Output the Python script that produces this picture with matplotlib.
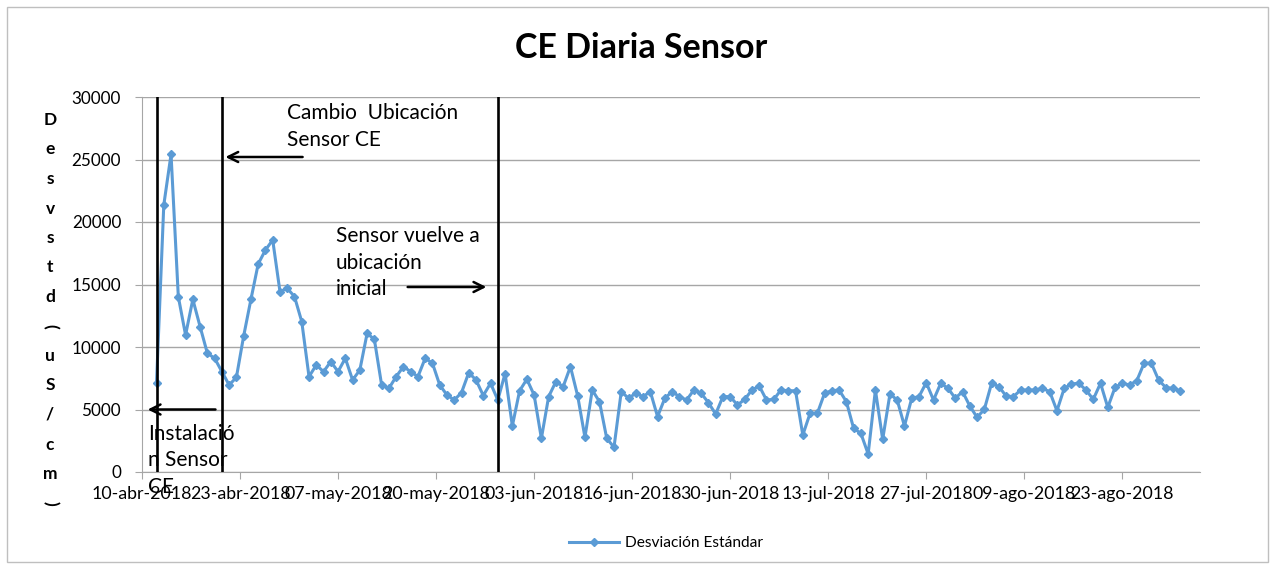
import pandas as pd
import numpy as np
import matplotlib
matplotlib.use("Agg")
import matplotlib.pyplot as plt
import matplotlib.dates as mdates
from matplotlib.patches import Rectangle

plt.rcParams["font.family"] = ["Lato", "DejaVu Sans"]

# datos (CE diaria, desviacion estandar, uS/cm)
fecha_inicio = "2018-04-12"
desv_std = [
    7150, 21360, 25410, 14030, 10960, 13810, 11630, 9500, 9100, 8030,
    6960, 7570, 10880, 13810, 16640, 17760, 18560, 14430, 14700, 14030,
    12030, 7630, 8560, 8030, 8830, 8030, 9100, 7360, 8160, 11090,
    10610, 6960, 6690, 7630, 8430, 8030, 7630, 9100, 8700, 6960,
    6160, 5760, 6350, 7950, 7360, 6120, 7100, 5760, 7880, 3680,
    6500, 7420, 6160, 2690, 6030, 7230, 6830, 8430, 6080, 2770,
    6560, 5630, 2690, 1980, 6430, 5900, 6300, 6030, 6430, 4430,
    5900, 6430, 6030, 5760, 6560, 6300, 5550, 4640, 6030, 6030,
    5360, 5810, 6560, 6880, 5760, 5810, 6560, 6500, 6500, 2960,
    4690, 4690, 6300, 6500, 6560, 5630, 3490, 3090, 1440, 6560,
    2610, 6240, 5760, 3680, 5900, 6030, 7150, 5760, 7100, 6690,
    5900, 6430, 5280, 4370, 5010, 7100, 6830, 6080, 6030, 6560,
    6560, 6560, 6690, 6430, 4900, 6690, 7040, 7100, 6560, 5810,
    7100, 5170, 6770, 7100, 6960, 7310, 8700, 8700, 7360, 6750,
    6690, 6500,
]
etiquetas_x = ["10-abr-2018", "23-abr-2018", "07-may-2018", "20-may-2018",
               "03-jun-2018", "16-jun-2018", "30-jun-2018", "13-jul-2018",
               "27-jul-2018", "09-ago-2018", "23-ago-2018"]
eventos = {"instalacion": "2018-04-12", "cambio": "2018-04-21", "vuelve": "2018-05-29"}

fechas = pd.date_range(fecha_inicio, periods=len(desv_std), freq="D")
x = mdates.date2num(fechas)
x0 = mdates.date2num(pd.Timestamp("2018-04-10"))

fig = plt.figure(figsize=(12.75, 5.69), dpi=100)
ax = fig.add_axes([142 / 1275, 1 - 472 / 569, (1200 - 142) / 1275, (472 - 97) / 569])

azul = "#5B9BD5"
ax.plot(x, desv_std, color=azul, lw=2.2, marker="D", markersize=4.3,
        markerfacecolor=azul, markeredgecolor=azul, label="Desviación Estándar", zorder=3)

ax.set_ylim(0, 30000)
ax.set_yticks(range(0, 30001, 5000))
ax.set_xlim(x0, x0 + 145.7)
ax.set_xticks(x0 + np.arange(len(etiquetas_x)) * 13.5)
ax.set_xticklabels(etiquetas_x)
ax.grid(axis="y", color="#A6A6A6", lw=1)
ax.set_axisbelow(True)
for s in ["top", "right"]:
    ax.spines[s].set_visible(False)
for s in ["left", "bottom"]:
    ax.spines[s].set_color("#A6A6A6")
ax.tick_params(axis="y", labelsize=12.3, length=5, color="#A6A6A6", pad=10)
ax.tick_params(axis="x", labelsize=12.8, length=5, color="#A6A6A6", pad=5)

# lineas de eventos
for k in ["instalacion", "cambio", "vuelve"]:
    ax.axvline(mdates.date2num(pd.Timestamp(eventos[k])), color="black", lw=1.9, zorder=4)

flecha = dict(arrowstyle="->", color="black", lw=1.8, mutation_scale=18)
ax.annotate("", xy=(x0 + 0.4, 5000), xytext=(x0 + 10.5, 5000), arrowprops=flecha)
ax.annotate("", xy=(x0 + 11.1, 25200), xytext=(x0 + 22.5, 25200), arrowprops=flecha)
ax.annotate("", xy=(x0 + 47.8, 14800), xytext=(x0 + 36.2, 14800), arrowprops=flecha)

ax.text(x0 + 20.0, 29500, "Cambio  Ubicación\nSensor CE", fontsize=15, va="top",
        ha="left", linespacing=1.4)
ax.text(x0 + 26.7, 19650, "Sensor vuelve a\nubicación\ninicial", fontsize=15,
        va="top", ha="left", linespacing=1.4)
ax.text(x0 + 0.8, 3850, "Instalació\nn Sensor\nCE", fontsize=15, va="top",
        ha="left", linespacing=1.4, clip_on=False, zorder=5)

fig.suptitle("CE Diaria Sensor", x=0.503, y=1 - 48 / 569, va="center",
             fontsize=24.5, fontweight="bold")

# etiqueta del eje y apilada
letras = list("Desvstd(uS/cm)")
for i, c in enumerate(letras):
    rot = -90 if c in "()" else 0
    fig.text(50 / 1275, 1 - (120 + i * 29.5) / 569, c, ha="center", va="center",
             fontsize=12.5, fontweight="bold", rotation=rot)

fig.legend(loc="center", bbox_to_anchor=(666 / 1275, 1 - 543 / 569), frameon=False,
           fontsize=11.2, handlelength=3.2, handletextpad=0.4)

fig.patches.append(Rectangle((7 / 1275, 7 / 569), 1261 / 1275, 555 / 569,
                             transform=fig.transFigure, fill=False,
                             edgecolor="#BFBFBF", lw=1))

plt.savefig("out.png", dpi=100)
